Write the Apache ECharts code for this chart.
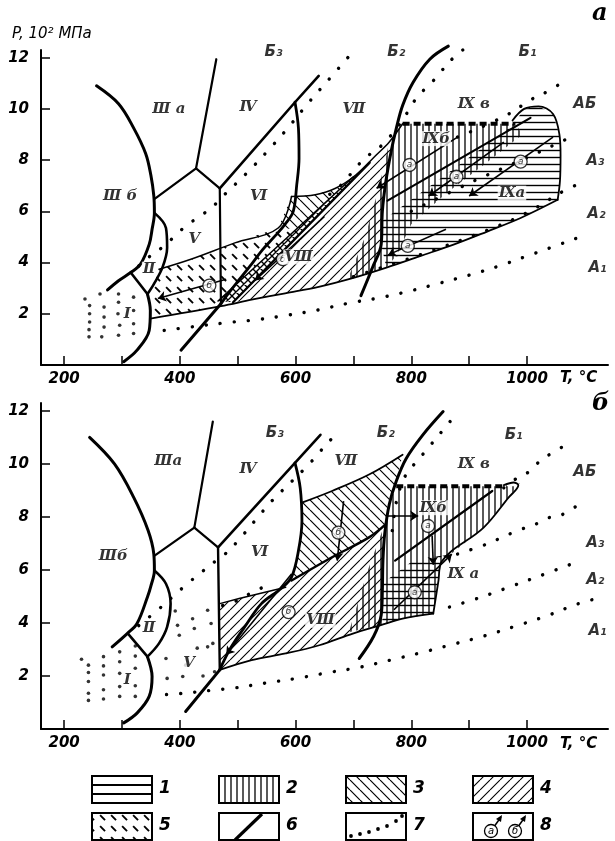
<!DOCTYPE html>
<html>
<head>
<meta charset="utf-8">
<script src="https://cdn.jsdelivr.net/npm/echarts@6.0.0/dist/echarts.min.js"></script>
<style>
html,body{margin:0;padding:0;background:#fff;}
#chart{width:615px;height:841px;}
</style>
</head>
<body>
<div id="chart"></div>
<script>
// ticks
var xTicks=[200,300,400,500,600,700,800,900,1000];
var xLabels=[200,400,600,800,1000];
var yTicks=[2,4,6,8,10,12];

// ---- panel a : boundaries (T, P) ----
var aArc=[[256,10.9],[294,10.2],[320,9.26],[341,8.25],[350,7.4],[355,6.6],[356,5.94],[352,5.3],[347,4.71],[332,3.94],[315,3.61],[294,3.29],[275,2.93]];
var aIandII=[[315,3.61],[344,2.77]];
var aIRight=[[344,2.77],[349,2.13],[347,1.35],[326,0.58],[303,0.13]];
var aIIRight=[[356,5.94],[376,5.35],[378,4.58],[370,3.81],[355,3.16],[344,2.77]];
var aIIIbV=[[357,6.5],[428,7.68]];
var aIIIaIV=[[428,7.68],[463,11.94]];
var aTriple=[[428,7.68],[469,6.9]];
var aVVI=[[469,6.9],[471,2.39]];
var aIVVI=[[469,6.9],[599,10.26],[640,11.29]];
var aVIVII=[[599,10.26],[605,9.23],[606,8.06],[602,7.03],[596,6.0],[582,5.5],[565,5.05],[541,4.45],[524,3.94],[501,3.29],[483,2.77],[471,2.39]];
var aBase=[[402,0.58],[471,2.39]];
var aB2=[[864,12.45],[832,11.94],[803,11.03],[785,10.13],[774,9.23],[765,8.32],[756,7.16],[750,6.0],[748,4.71],[733,3.81],[713,2.71]];
var aLower=[[349,1.81],[471,2.3],[524,2.55],[582,2.8],[640,3.05],[700,3.4],[757,3.8],[815,4.25],[873,4.7],[930,5.2],[989,5.74],[1053,6.45]];
var aRightEdge=[[1053,6.45],[1057,7.2],[1058,8.2],[1056,9.0],[1045,9.8],[1020,10.1],[995,10.0],[975,9.55]];
var aTopEdge=[[593,6.58],[634,6.65],[669,6.9],[704,7.42],[739,8.19],[762,8.71],[785,9.42]];
var aUpperLeft=[[364,3.74],[419,4.13],[495,4.77],[570,5.35],[593,6.58]];
var aTopDash=[[785,9.42],[980,9.42]];
var aDiagA=[[759,6.42],[1006,9.65]];
var aBandL=[[466,2.5],[700,7.35]];
var aBandR=[[492,2.45],[728,7.9]];

// panel a : hatched regions
var aReg5=[[349,1.81],[349,2.13],[355,3.16],[364,3.74],[419,4.13],[495,4.77],[570,5.35],[601,5.3],[466,2.5],[471,2.3]];
var aRegChk=[[466,2.5],[700,7.35],[728,7.9],[492,2.45]];
var aReg3=[[570,5.35],[593,6.58],[634,6.65],[669,6.9],[690,7.15],[601,5.3]];
var aReg4=[[492,2.45],[728,7.9],[739,8.19],[762,8.71],[765,8.32],[756,7.16],[750,6.0],[748,4.71],[733,3.81],[700,3.4],[640,3.05],[582,2.8],[524,2.55]];
var aReg2=[[690,3.35],[720,5.0],[745,7.0],[762,8.71],[785,9.42],[980,9.42],[992,9.0],[930,7.9],[860,6.7],[800,5.5],[775,4.3],[757,3.8],[700,3.4]];
var aReg1=[[748,5.6],[870,7.6],[975,9.35],[995,10.0],[1020,10.1],[1045,9.8],[1056,9.0],[1058,8.2],[1057,7.2],[1053,6.45],[989,5.74],[930,5.2],[873,4.7],[815,4.25],[757,3.8],[748,4.71]];

// panel a : dotted isograds
var aDotB3=[[329,3.87],[349,4.26],[373,4.65],[391,5.03],[412,5.46],[435,5.81],[457,6.19],[477,6.65],[515,7.48],[553,8.39],[588,9.29],[623,10.26],[659,11.19],[694,12.1]];
var aDotB2=[[889,12.3],[867,11.87],[849,11.39],[831,10.93],[812,10.52],[797,10.0],[780,9.4],[749,8.58],[723,8.13],[703,7.68],[687,7.23],[666,6.77],[646,6.52]];
var aDotB1=[[880,8.9],[960,9.7],[1010,10.4],[1037,10.7],[1062,11.05]];
var aDotA3=[[800,6.0],[900,7.1],[1000,8.1],[1062,8.75],[1085,9.0]];
var aDotA2=[[700,3.45],[815,4.3],[930,5.25],[1000,5.95],[1067,6.84],[1094,7.1]];
var aDotA1=[[373,1.35],[425,1.5],[480,1.65],[533,1.77],[585,1.94],[639,2.15],[691,2.41],[744,2.62],[796,2.88],[848,3.19],[900,3.51],[951,3.86],[1002,4.27],[1053,4.68],[1078,4.89],[1100,5.05]];
var aDotsI=[[236,2.58],[244,2.32],[244,2.0],[244,1.68],[243,1.38],[243,1.1],[262,2.77],[269,2.26],[269,1.87],[269,1.48],[265,1.1],[294,2.77],[294,2.45],[293,2.0],[296,1.55],[294,1.16],[320,2.65],[320,2.13],[320,1.61],[320,1.23]];

// panel a : labels, circled marks, arrows
var aLabels=[[381,10.0,'Ⅲ a'],[518,10.06,'Ⅳ'],[701,10.0,'Ⅶ'],[908,10.2,'Ⅸ в'],[843,8.84,'Ⅸб'],[536,6.58,'Ⅵ'],[425,4.9,'Ⅴ'],[297,6.58,'Ⅲ б'],[347,3.74,'Ⅱ'],[309,2.0,'Ⅰ'],[605,4.22,'Ⅷ'],[974,6.71,'Ⅸa']];
var aIsoLabels=[[562,12.2,'Б₃'],[774,12.2,'Б₂'],[1001,12.2,'Б₁'],[1100,10.2,'АБ'],[1118,7.95,'А₃'],[1120,5.9,'А₂'],[1122,3.8,'А₁']];
var aCircles=[[797,7.81,'а'],[878,7.35,'а'],[989,7.94,'а'],[794,4.65,'а'],[451,3.1,'б'],[578,4.13,'б']];
var aArrows=[[[880,8.9],[740,6.9]],[[960,8.7],[830,6.6]],[[1045,8.9],[900,6.6]],[[860,5.3],[760,4.3]],[[480,3.35],[362,2.6]],[[650,5.8],[530,3.3]]];

// ---- panel b ----
var bArc=[[244,11.0],[287,10.0],[320,8.75],[345,7.5],[355,6.6],[356,5.98],[350,5.4],[344,4.98],[326,3.98],[309,3.6],[283,3.1]];
var bIandII=[[311,3.58],[344,2.73]];
var bIRight=[[344,2.73],[352,1.98],[347,1.23],[326,0.6],[303,0.23]];
var bIIRight=[[356,5.98],[376,5.48],[384,4.73],[378,3.85],[364,3.23],[344,2.73]];
var bIIIbV=[[357,6.55],[425,7.6]];
var bIIIaIV=[[425,7.6],[457,11.6]];
var bTriple=[[425,7.6],[466,6.85]];
var bVVI=[[466,6.85],[469,2.23]];
var bIVVI=[[466,6.85],[599,10.04],[643,11.1]];
var bVIVII=[[599,10.04],[608,9.1],[611,7.85],[605,6.73],[593,5.73],[575,5.3],[541,4.73],[512,3.85],[489,3.1],[474,2.48],[469,2.23]];
var bBase=[[410,0.66],[469,2.23]];
var bB2=[[855,11.98],[820,11.1],[791,10.2],[774,9.35],[762,8.48],[754,7.35],[751,6.35],[750,5.23],[748,4.3],[735,3.5],[710,2.66]];
var bLower=[[469,2.23],[524,2.6],[583,2.85],[641,3.16],[699,3.6],[746,3.91],[785,4.16],[838,4.35]];
var bRight=[[838,4.35],[847,5.6],[852,6.3],[925,7.6],[968,8.73],[985,9.2],[977,9.3],[960,9.2]];
var bTopDash=[[774,9.16],[965,9.16]];
var bReg3Top=[[611,8.54],[663,8.98],[727,9.6],[785,10.35]];
var bVIIIUpper=[[469,4.73],[524,5.04],[583,5.35]];
var bReg3Low=[[593,5.6],[663,6.48],[727,7.23],[756,7.73]];
var bDiag=[[772,6.35],[940,8.98]];

var bReg4=[[469,2.23],[469,4.73],[524,5.04],[583,5.35],[593,5.6],[663,6.48],[727,7.23],[756,7.73],[754,7.35],[751,6.35],[750,5.23],[748,4.3],[746,3.91],[699,3.6],[641,3.16],[583,2.85],[524,2.6]];
var bReg3=[[611,8.54],[663,8.98],[727,9.6],[785,10.35],[774,9.35],[762,8.48],[756,7.73],[727,7.23],[663,6.48],[593,5.6],[605,6.73],[611,7.85]];
var bReg2=[[692,3.65],[725,6.0],[752,7.6],[762,8.48],[774,9.16],[977,9.16],[988,9.28],[968,8.73],[925,7.6],[852,6.3],[847,5.6],[838,4.35],[785,4.16],[746,3.91]];
var bReg1=[[750,4.0],[750,5.5],[800,6.3],[852,6.55],[847,5.6],[838,4.35],[785,4.16]];

var bDotB3=[[329,3.9],[373,4.7],[390,5.04],[413,5.48],[437,5.91],[459,6.29],[478,6.6],[498,7.04],[539,8.1],[556,8.54],[617,9.85],[638,10.35],[655,10.79],[676,11.2]];
var bDotB2=[[867,11.6],[848,11.1],[829,10.6],[812,10.16],[791,9.6],[778,8.9],[770,8.0],[765,7.0]];
var bDotB1=[[960,9.1],[978,9.4],[1003,9.7],[1022,10.1],[1046,10.45],[1074,10.8]];
var bDotA3=[[880,6.6],[931,6.98],[957,7.23],[985,7.5],[1012,7.7],[1036,7.96],[1060,8.08],[1088,8.45]];
var bDotA2=[[866,4.6],[920,4.97],[975,5.4],[1030,5.84],[1080,6.25]];
var bDotA1=[[377,1.3],[408,1.35],[463,1.48],[492,1.54],[547,1.73],[602,1.91],[657,2.13],[711,2.33],[764,2.6],[817,2.88],[871,3.19],[926,3.51],[980,3.88],[1033,4.26],[1085,4.7],[1113,4.88]];
var bDotTop=[[474,4.66],[503,4.88],[525,5.16],[551,5.41]];
var bDotsI=[[230,2.63],[242,2.41],[242,2.13],[242,1.79],[242,1.35],[242,1.08],[268,2.73],[268,2.38],[268,2.04],[268,1.48],[268,1.13],[296,2.91],[296,2.54],[296,2.1],[296,1.6],[296,1.23],[323,3.13],[323,2.75],[323,2.29],[323,1.63],[323,1.23]];
var bDotsV=[[376,2.66],[378,1.91],[396,3.91],[399,3.54],[410,2.41],[405,1.98],[425,3.79],[422,4.16],[448,4.48],[448,3.1],[454,3.98],[457,3.23],[460,2.16],[392,4.45],[430,3.05],[440,2.0]];

var bLabels=[[380,10.1,'Ⅲa'],[518,9.79,'Ⅳ'],[687,10.1,'Ⅶ'],[908,9.98,'Ⅸ в'],[838,8.35,'Ⅸб'],[538,6.66,'Ⅵ'],[890,5.85,'Ⅸ a'],[285,6.54,'Ⅲб'],[347,3.79,'Ⅱ'],[309,1.85,'Ⅰ'],[416,2.48,'Ⅴ'],[643,4.1,'Ⅷ']];
var bIsoLabels=[[564,11.16,'Б₃'],[756,11.16,'Б₂'],[977,11.1,'Б₁'],[1100,9.7,'АБ'],[1118,7.0,'А₃'],[1118,5.6,'А₂'],[1122,3.7,'А₁']];
var bCircles=[[674,7.41,'б'],[588,4.41,'б'],[829,7.66,'а'],[806,5.16,'а']];
var bArrows=[[[683,8.6],[672,6.35]],[[593,5.85],[480,2.8]],[[757,8.04],[812,8.04]],[[836,7.3],[838,6.2]],[[770,4.5],[870,6.6]]];

// ---- hatch patterns ----
function pat(kind,s,w){
  var c=document.createElement('canvas');c.width=s;c.height=s;
  var g=c.getContext('2d');g.strokeStyle='#000';g.lineWidth=w;g.beginPath();
  var k;
  if(kind==='h'){g.moveTo(0,s/2);g.lineTo(s,s/2);}
  else if(kind==='v'){g.moveTo(s/2,0);g.lineTo(s/2,s);}
  else if(kind==='b'){for(k=-1;k<=1;k++){g.moveTo(k*s,0);g.lineTo(k*s+s,s);}}
  else if(kind==='f'){for(k=-1;k<=1;k++){g.moveTo(k*s,s);g.lineTo(k*s+s,0);}}
  else if(kind==='d'){g.moveTo(s*0.1,s*0.1);g.lineTo(s*0.55,s*0.55);}
  else if(kind==='c'){for(k=-1;k<=1;k++){g.moveTo(k*s,0);g.lineTo(k*s+s,s);g.moveTo(k*s,s);g.lineTo(k*s+s,0);}}
  g.stroke();
  return {image:c,repeat:'repeat'};
}
var P1=pat('h',7,1.4),P2=pat('v',6,1.3),P3=pat('b',10,1.2),P4=pat('f',10,1.1),P5=pat('d',11,1.9),PC=pat('c',8,1.4);

var chart=echarts.init(document.getElementById('chart'));

function region(g,pts,fill){
  return {type:'custom',xAxisIndex:g,yAxisIndex:g,silent:true,z:1,data:[pts[0]],
    renderItem:function(params,api){
      return {type:'polygon',shape:{points:pts.map(function(q){return api.coord(q);})},style:{fill:fill,stroke:null}};
    }};
}
function ln(g,pts,w,sm){
  return {type:'line',xAxisIndex:g,yAxisIndex:g,data:pts,smooth:sm===undefined?0.35:sm,symbol:'none',clip:false,silent:true,z:5,
    lineStyle:{color:'#000',width:w,cap:'round',join:'round'}};
}
function dots(g,pts){
  return {type:'line',xAxisIndex:g,yAxisIndex:g,data:pts,smooth:0.4,symbol:'none',clip:false,silent:true,z:6,
    lineStyle:{color:'#000',width:3.4,type:[0.1,14],cap:'round'}};
}
function dashTop(g,pts){
  return {type:'line',xAxisIndex:g,yAxisIndex:g,data:pts,symbol:'none',silent:true,z:6,
    lineStyle:{color:'#000',width:4,type:[7,4]}};
}
function pts(g,list){
  return {type:'scatter',xAxisIndex:g,yAxisIndex:g,data:list,symbol:'circle',symbolSize:3.6,silent:true,z:6,itemStyle:{color:'#000'}};
}
function labels(g,list,size,family,bg){
  return {type:'scatter',xAxisIndex:g,yAxisIndex:g,data:list,symbolSize:1,silent:true,z:9,clip:false,itemStyle:{color:'rgba(0,0,0,0)'},
    label:{show:true,position:'inside',formatter:function(p){return p.value[2];},color:'#000',fontFamily:family,fontStyle:'italic',fontWeight:'bold',fontSize:size,
      backgroundColor:bg||'transparent',padding:[0,1]}};
}
function circles(g,list){
  return {type:'scatter',xAxisIndex:g,yAxisIndex:g,data:list,symbol:'circle',symbolSize:13,silent:true,z:8,
    itemStyle:{color:'#fff',borderColor:'#000',borderWidth:1.3},
    label:{show:true,position:'inside',formatter:function(p){return p.value[2];},color:'#000',fontFamily:'DejaVu Sans',fontStyle:'italic',fontSize:9}};
}
function arrows(g,list){
  return {type:'lines',coordinateSystem:'cartesian2d',xAxisIndex:g,yAxisIndex:g,silent:true,z:7,
    symbol:['none','arrow'],symbolSize:[0,8],lineStyle:{color:'#000',width:1.6,opacity:1},
    data:list.map(function(s){return {coords:s};})};
}

var series=[
  region(0,aReg5,P5),region(0,aRegChk,PC),region(0,aReg3,P3),region(0,aReg4,P4),region(0,aReg2,P2),region(0,aReg1,P1),
  ln(0,aLower,1.8),ln(0,aRightEdge,1.8),ln(0,aTopEdge,1.5),ln(0,aUpperLeft,1.5),ln(0,aDiagA,2.2,0),ln(0,aBandL,1.6,0),ln(0,aBandR,2.4,0),
  ln(0,aArc,3),ln(0,aIandII,2.6),ln(0,aIRight,3),ln(0,aIIRight,2.6),ln(0,aIIIbV,2.2,0),ln(0,aIIIaIV,2.2,0),ln(0,aTriple,2.2,0),
  ln(0,aVVI,2.2,0),ln(0,aIVVI,2.6,0),ln(0,aVIVII,2.8),ln(0,aBase,3,0),ln(0,aB2,3),
  dashTop(0,aTopDash),
  dots(0,aDotB3),dots(0,aDotB2),dots(0,aDotB1),dots(0,aDotA3),dots(0,aDotA2),dots(0,aDotA1),pts(0,aDotsI),
  arrows(0,aArrows),circles(0,aCircles),
  labels(0,aLabels,15,'DejaVu Serif','#fff'),labels(0,aIsoLabels,15,'DejaVu Sans'),

  region(1,bReg4,P4),region(1,bReg3,P3),region(1,bReg2,P2),region(1,bReg1,P1),
  ln(1,bLower,1.8),ln(1,bRight,1.8),ln(1,bReg3Top,1.8),ln(1,bVIIIUpper,1.5),ln(1,bReg3Low,2.4),ln(1,bDiag,2.2,0),
  ln(1,bArc,3),ln(1,bIandII,2.6),ln(1,bIRight,3),ln(1,bIIRight,2.6),ln(1,bIIIbV,2.2,0),ln(1,bIIIaIV,2.2,0),ln(1,bTriple,2.2,0),
  ln(1,bVVI,2.4,0),ln(1,bIVVI,2.6,0),ln(1,bVIVII,2.8),ln(1,bBase,3,0),ln(1,bB2,3),
  dashTop(1,bTopDash),
  dots(1,bDotB3),dots(1,bDotB2),dots(1,bDotB1),dots(1,bDotA3),dots(1,bDotA2),dots(1,bDotA1),dots(1,bDotTop),pts(1,bDotsI),pts(1,bDotsV),
  arrows(1,bArrows),circles(1,bCircles),
  labels(1,bLabels,15,'DejaVu Serif','#fff'),labels(1,bIsoLabels,15,'DejaVu Sans')
];

var axisFont={fontFamily:'DejaVu Sans',fontStyle:'italic',fontWeight:'bold',fontSize:15,color:'#000'};
function xAx(g){
  return {gridIndex:g,type:'value',min:160,max:1140,
    axisLine:{onZero:false,lineStyle:{color:'#000',width:2}},
    axisTick:{inside:true,length:9,customValues:xTicks,lineStyle:{color:'#000',width:1.5}},
    axisLabel:Object.assign({customValues:xLabels,margin:7,formatter:function(v){return String(v);}},axisFont),splitLine:{show:false}};
}
function yAx(g){
  return {gridIndex:g,type:'value',min:0,max:12.3,
    axisLine:{onZero:false,lineStyle:{color:'#000',width:2}},
    axisTick:{inside:true,length:9,customValues:yTicks,lineStyle:{color:'#000',width:1.5}},
    axisLabel:Object.assign({customValues:yTicks,margin:12,formatter:function(v){return String(v);}},axisFont),splitLine:{show:false}};
}

// legend (boxes under the charts)
var graphics=[];
var colX=[92,219,346,473],rowY=[776,813],bw=60,bh=27;
var fills=[null,P2,P3,P4,P5,null,null,null];
for(var i=0;i<8;i++){
  var bx=colX[i%4],by=rowY[Math.floor(i/4)];
  graphics.push({type:'rect',shape:{x:bx,y:by,width:bw,height:bh},style:{fill:fills[i]||'#fff',stroke:'#000',lineWidth:2},z:10});
  graphics.push({type:'text',x:bx+bw+7,y:by+4,style:{text:String(i+1),font:'italic bold 17px "DejaVu Sans"',fill:'#000'},z:10});
}
graphics.push({type:'line',shape:{x1:92,y1:785,x2:152,y2:785},style:{stroke:'#000',lineWidth:2},z:11});
graphics.push({type:'line',shape:{x1:92,y1:794,x2:152,y2:794},style:{stroke:'#000',lineWidth:2},z:11});
graphics.push({type:'line',shape:{x1:235,y1:840,x2:262,y2:814},style:{stroke:'#000',lineWidth:3.2},z:11});
[[351,836],[360,834],[369,832],[378,829],[387,826],[396,821],[402,816]].forEach(function(p){
  graphics.push({type:'circle',shape:{cx:p[0],cy:p[1],r:1.9},style:{fill:'#000'},z:11});
});
[[491,831,'а'],[515,831,'б']].forEach(function(p){
  graphics.push({type:'line',shape:{x1:p[0],y1:p[1],x2:p[0]+10,y2:p[1]-14},style:{stroke:'#000',lineWidth:1.5},z:11});
  graphics.push({type:'polygon',shape:{points:[[p[0]+11,p[1]-16],[p[0]+5,p[1]-12],[p[0]+10,p[1]-9]]},style:{fill:'#000'},z:11});
  graphics.push({type:'circle',shape:{cx:p[0],cy:p[1],r:6.5},style:{fill:'#fff',stroke:'#000',lineWidth:1.3},z:12});
  graphics.push({type:'text',x:p[0],y:p[1],style:{text:p[2],font:'italic 10px "DejaVu Sans"',fill:'#000',align:'center',verticalAlign:'middle'},z:13});
});
// axis titles and panel letters
graphics.push({type:'text',x:12,y:27,style:{text:'P, 10² МПа',font:'italic 15px "DejaVu Sans"',fill:'#000'}});
graphics.push({type:'text',x:560,y:371,style:{text:'T, °C',font:'italic bold 15px "DejaVu Sans"',fill:'#000'}});
graphics.push({type:'text',x:560,y:737,style:{text:'T, °C',font:'italic bold 15px "DejaVu Sans"',fill:'#000'}});
graphics.push({type:'text',x:592,y:2,style:{text:'а',font:'italic bold 24px "DejaVu Serif"',fill:'#000'}});
graphics.push({type:'text',x:592,y:392,style:{text:'б',font:'italic bold 24px "DejaVu Serif"',fill:'#000'}});

chart.setOption({
  animation:false,
  backgroundColor:'#fff',
  grid:[{left:41,top:50,width:567,height:315},{left:41,top:403,width:567,height:326}],
  xAxis:[xAx(0),xAx(1)],
  yAxis:[yAx(0),yAx(1)],
  series:series,
  graphic:graphics
});
</script>
</body>
</html>
